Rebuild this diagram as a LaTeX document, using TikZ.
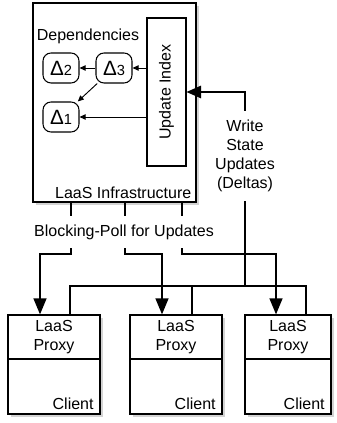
\documentclass[tikz,border=0pt]{standalone}
\usepackage{fontspec}
\setmainfont{Liberation Sans}
\usetikzlibrary{arrows.meta,shadows}
\newcommand\dlt[1]{{\fontsize{15.5}{16}\selectfont Δ}{\fontsize{11}{12}\selectfont #1}}
\begin{document}
\begin{tikzpicture}[x=0.75pt,y=-0.75pt,
    font=\fontsize{12}{14.25}\selectfont,
    box/.style={draw,line width=0.8pt,fill=white,inner sep=0pt},
    shade/.style={drop shadow={shadow xshift=2.2pt,shadow yshift=-2.2pt,opacity=0.35}},
    delta/.style={box,rounded corners=6pt,minimum width=27pt,minimum height=22.5pt},
    dep/.style={line width=0.7pt,-{Triangle[length=4.5pt,width=4pt]}},
    poll/.style={line width=1.6pt,-{Triangle[length=12pt,width=9.5pt]}},
    write/.style={line width=0.8pt,-{Triangle[length=11pt,width=9.5pt]}},
    gap/.style={fill=white,inner xsep=2pt,align=center}]
  \useasboundingbox (0,0) rectangle (336,423);
  % infrastructure
  \node[box,shade,minimum width=122.25pt,minimum height=149.25pt] (infra) at (114.5,102.5) {};
  \node[anchor=south east,inner xsep=3.75pt,inner ysep=3pt] (infratext) at (infra.south east) {LaaS Infrastructure};
  \node[box,minimum width=29.25pt,minimum height=111pt] (uindex) at (166.5,92) {};
  \node[rotate=90] (uindextext) at (uindex) {Update Index};
  \node (deptext) at (88,36) {Dependencies};
  \node[delta] (d2) at (61,68) {\dlt{2}};
  \node[delta] (d3) at (114,68) {\dlt{3}};
  \node[delta] (d1) at (61,117) {\dlt{1}};
  \draw[dep] (uindex.west |- d3) -- (d3);
  \draw[dep] (d3) -- (d2);
  \draw[dep] (d3) -- (d1);
  \draw[dep] (uindex.west |- d1) -- (d1);
  % clients
  \node[box,shade,minimum width=69pt,minimum height=74.25pt] (client1) at (54,364.5) {};
  \node[box,shade,minimum width=69pt,minimum height=74.25pt] (client2) at (176,364.5) {};
  \node[box,shade,minimum width=64.5pt,minimum height=74.25pt] (client3) at (288,364.5) {};
  \node[box,align=center,minimum width=69pt,minimum height=33pt] (proxy1) at (54,337) {LaaS\\Proxy};
  \node[box,align=center,minimum width=69pt,minimum height=33pt] (proxy2) at (176,337) {LaaS\\Proxy};
  \node[box,align=center,minimum width=64.5pt,minimum height=33pt] (proxy3) at (288,337) {LaaS\\Proxy};
  \node[anchor=south east,inner xsep=5pt,inner ysep=3.75pt] (ctext1) at (client1.south east) {Client};
  \node[anchor=south east,inner xsep=5pt,inner ysep=3.75pt] (ctext2) at (client2.south east) {Client};
  \node[anchor=south east,inner xsep=5pt,inner ysep=3.75pt] (ctext3) at (client3.south east) {Client};
  % state updates
  \coordinate (bus) at (245,286);
  \draw[line width=0.8pt] ([xshift=12pt]proxy1.north) |- ([xshift=13.5pt]proxy3.north |- bus) -- ([xshift=13.5pt]proxy3.north);
  \draw[line width=0.8pt] ([xshift=12pt]proxy2.north) -- ([xshift=12pt]proxy2.north |- bus);
  \draw[write] (bus) |- (uindex.east);
  \node[gap,inner ysep=7pt] (writetext) at (245,156) {Write\\State\\Updates\\(Deltas)};
  % blocking poll
  \coordinate (p1) at (71,254);
  \coordinate (p2) at (125,254);
  \coordinate (p3) at (182,254);
  \draw[poll] (p1 |- infra.south) -- (p1) -| ([xshift=-10.5pt]proxy1.north);
  \draw[poll] (p2 |- infra.south) -- (p2) -| ([xshift=-10.5pt]proxy2.north);
  \draw[poll] (p3 |- infra.south) -- (p3) -| ([xshift=-9pt]proxy3.north);
  \node[gap,inner ysep=6.5pt] (polltext) at (124,232) {Blocking-Poll for Updates};
\end{tikzpicture}
\end{document}
